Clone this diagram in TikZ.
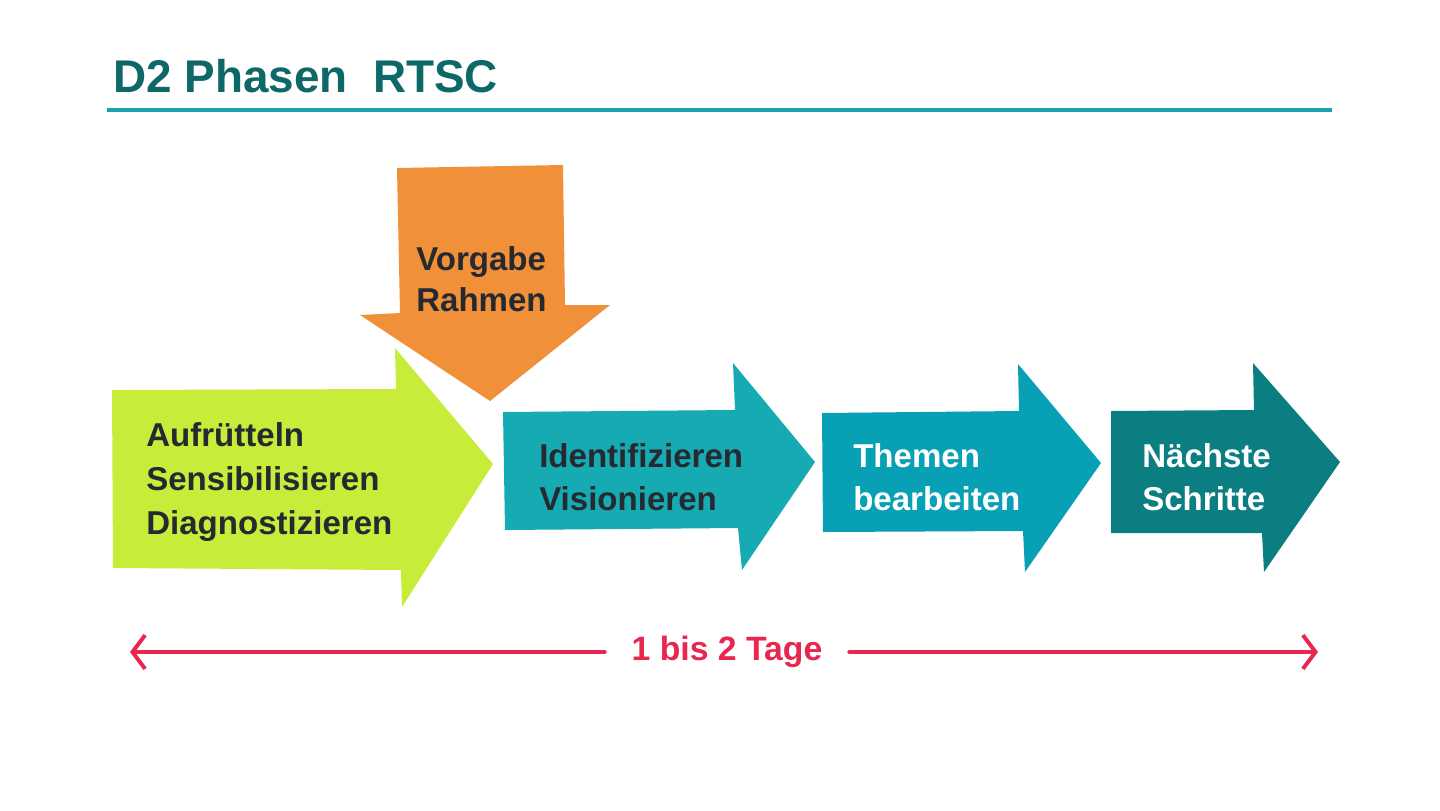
\documentclass[tikz,border=0pt]{standalone}
\usepackage{fontspec}
\setmainfont{Liberation Sans}
\usepackage{tikz}
\usetikzlibrary{arrows.meta}
\definecolor{titleteal}{RGB}{14,104,104}
\definecolor{ruleteal}{RGB}{26,163,170}
\definecolor{limegreen}{RGB}{200,236,58}
\definecolor{framorange}{RGB}{240,144,56}
\definecolor{tealone}{RGB}{22,170,178}
\definecolor{tealtwo}{RGB}{8,160,180}
\definecolor{tealthree}{RGB}{10,126,128}
\definecolor{daysred}{RGB}{232,38,78}
\definecolor{inkdark}{RGB}{38,42,48}
\tikzset{
  titletext/.style={anchor=base west, inner sep=0pt, text=titleteal, font=\bfseries\fontsize{32.6}{38}\selectfont},
  phasetext/.style={anchor=west, align=left, inner sep=0pt, font=\bfseries\fontsize{23.5}{31}\selectfont},
  darktext/.style={phasetext, text=inkdark},
  lighttext/.style={phasetext, text=white},
  daylabel/.style={inner xsep=19pt, inner ysep=0pt, text=daysred, font=\bfseries\fontsize{24}{28}\selectfont},
  dayline/.style={draw=daysred, line width=2.8pt, line cap=round, line join=round, -{Straight Barb[length=9pt, width=24pt]}},
}

\begin{document}
\begin{tikzpicture}[x=0.025cm, y=-0.025cm]
\useasboundingbox (0,0) rectangle (1440,810);
% title and rule
\node[titletext] (title) at (113,92) {D2 Phasen\ \ RTSC};
\draw[ruleteal, line width=2.9pt] (107,110) -- (1332,110);
% arrow shapes
\fill[limegreen] (112,390) -- (396,389) -- (395,348) -- (493,464) -- (402,607) -- (401,570) -- (113,568) -- cycle;
\fill[framorange] (397,168) -- (563,165) -- (565,305) -- (610,305) -- (490,401) -- (360,315) -- (400,313) -- cycle;
\fill[tealone] (503,412) -- (735,410) -- (733,363) -- (815,462) -- (742,570) -- (738,528) -- (505,530) -- cycle;
\fill[tealtwo] (822,413) -- (1019,411) -- (1018,364) -- (1101,463) -- (1025,572) -- (1023,531) -- (823,532) -- cycle;
\fill[tealthree] (1111,411) -- (1254,410) -- (1253,363) -- (1340,462) -- (1264,572) -- (1262,533) -- (1111,533) -- cycle;
% phase texts
\node[darktext] (shake) at (146,482) {Aufrütteln\\Sensibilisieren\\Diagnostizieren};
\node[darktext, font=\bfseries\fontsize{23.5}{29}\selectfont] (frame) at (416,279) {Vorgabe\\Rahmen};
\node[darktext] (vision) at (539,477) {Identifizieren\\Visionieren};
\node[lighttext] (topics) at (853,477) {Themen\\bearbeiten};
\node[lighttext] (next) at (1142,477) {Nächste\\Schritte};
% duration
\coordinate (dleft) at (130,652);
\coordinate (dright) at (1318,652);
\node[daylabel] (days) at (727,652) {1 bis 2 Tage};
\draw[dayline] (days.west) -- (dleft);
\draw[dayline] (days.east) -- (dright);
\end{tikzpicture}
\end{document}
